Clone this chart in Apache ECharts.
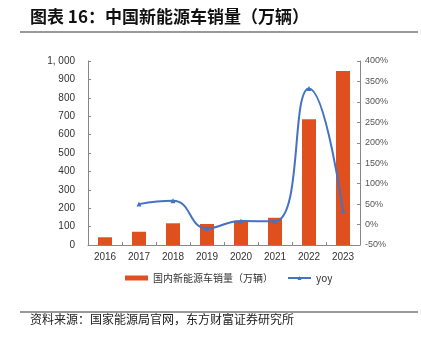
<!DOCTYPE html>
<html><head><meta charset="utf-8">
<script src="https://cdn.jsdelivr.net/npm/echarts@6/dist/echarts.min.js"></script>
<style>html,body{margin:0;padding:0;background:#fff}#c{width:421px;height:339px}</style>
</head><body><div id="c"></div>
<script>
var years = ['2016','2017','2018','2019','2020','2021','2022','2023'];
var sales = [42, 72, 118, 114, 132, 148, 683, 946];
var yoy = [null, 50, 58, -9, 9, 8, 333, 33];
var leftTicks = [0, 1000, 100];
var rightTicks = [-50, 400, 50];

var chart = echarts.init(document.getElementById('c'), null, {renderer:'canvas'});
var cjk = '"Noto Sans CJK SC", "Noto Sans", sans-serif';
chart.setOption({
  animation:false,
  backgroundColor:'#fff',
  grid:{left:88, right:61, top:61, bottom:94},
  graphic:[
    {type:'text', left:30, top:8, style:{text:'图表 16：中国新能源车销量（万辆）', font:'bold 17px "Noto Sans CJK SC"', fill:'#111'}},
    {type:'line', shape:{x1:20,y1:32,x2:418,y2:32}, style:{stroke:'#777', lineWidth:1.5}},
    {type:'line', shape:{x1:20,y1:312,x2:418,y2:312}, style:{stroke:'#777', lineWidth:1.5}},
    {type:'text', left:30, top:313, style:{text:'资料来源：国家能源局官网，东方财富证券研究所', font:'12px "Noto Sans CJK SC"', fill:'#222'}}
  ],
  legend:{
    bottom:51, left:120, itemGap:14, itemWidth:23, itemHeight:5,
    textStyle:{fontFamily:cjk, fontSize:10, color:'#333'},
    data:[{name:'国内新能源车销量（万辆）', icon:'rect'},{name:'yoy'}]
  },
  xAxis:{
    type:'category', data:years, boundaryGap:true,
    axisLine:{lineStyle:{color:'#888'}},
    axisTick:{show:true, inside:true, alignWithLabel:false, length:3, lineStyle:{color:'#888'}},
    axisLabel:{color:'#333', fontSize:10, margin:7, fontFamily:'Arial, "Liberation Sans"'}
  },
  yAxis:[
    {type:'value', min:leftTicks[0], max:leftTicks[1], interval:leftTicks[2],
     axisLine:{show:true, lineStyle:{color:'#888'}},
     axisTick:{show:true, inside:true, length:3, lineStyle:{color:'#888'}},
     splitLine:{show:false},
     axisLabel:{color:'#333', fontSize:10, margin:13, fontFamily:'Arial, "Liberation Sans"',
       formatter:function(v){return v>=1000? (Math.floor(v/1000)+', '+String(v%1000).padStart(3,'0')) : String(v);}}},
    {type:'value', min:rightTicks[0], max:rightTicks[1], interval:rightTicks[2], position:'right',
     axisLine:{show:true, lineStyle:{color:'#888'}},
     axisTick:{show:true, inside:true, length:3, lineStyle:{color:'#888'}},
     splitLine:{show:false},
     axisLabel:{color:'#555', fontSize:9, margin:5, fontFamily:'Arial, "Liberation Sans"', formatter:'{value}%'}}
  ],
  series:[
    {name:'国内新能源车销量（万辆）', type:'bar', data:sales, barWidth:14, yAxisIndex:0,
     itemStyle:{color:'#E0501F'}},
    {name:'yoy', type:'line', data:yoy, yAxisIndex:1, smooth:0.5, symbol:'triangle', symbolSize:5,
     lineStyle:{color:'#4472C4', width:2}, itemStyle:{color:'#4472C4'}}
  ]
});
</script></body></html>
